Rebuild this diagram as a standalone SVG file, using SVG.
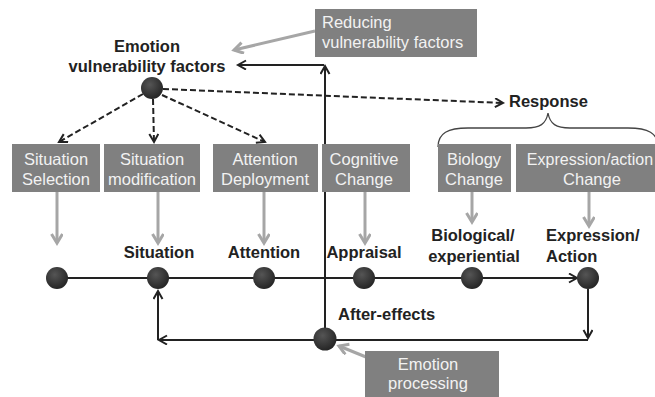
<svg xmlns="http://www.w3.org/2000/svg" width="655" height="397" viewBox="0 0 655 397">
<style>
text{font-family:"Liberation Sans",Arial,sans-serif;font-size:16.5px}
.b{font-weight:bold;fill:#222}
.bx{fill:#808080}
.bt{fill:#f2f2f2;text-anchor:middle}
.c{text-anchor:middle}
.k{stroke:#222;stroke-width:2;fill:none}
.d{stroke:#222;stroke-width:2;fill:none;stroke-dasharray:6 3}
.g{stroke:#a6a6a6;stroke-width:3;fill:none}
.dot{fill:url(#dg)}
</style>
<defs>
<radialGradient id="dg" cx="0.4" cy="0.35" r="0.7">
<stop offset="0" stop-color="#555"/>
<stop offset="1" stop-color="#222"/>
</radialGradient>
<marker id="ak" markerUnits="userSpaceOnUse" markerWidth="12" markerHeight="12" refX="9" refY="5" orient="auto">
<path d="M1,0.5 L9,5 L1,9.5" fill="none" stroke="#222" stroke-width="2"/>
</marker>
<marker id="ag" markerUnits="userSpaceOnUse" markerWidth="14" markerHeight="14" refX="10" refY="6" orient="auto">
<path d="M1,0.5 L10,6 L1,11.5" fill="none" stroke="#a6a6a6" stroke-width="3"/>
</marker>
</defs>
<rect width="655" height="397" fill="#fff"/>

<g id="connectors">
<line class="g" x1="315" y1="31" x2="234" y2="50" marker-end="url(#ag)"/>
<line class="g" x1="366" y1="357" x2="339" y2="346" marker-end="url(#ag)"/>
<line class="g" x1="57" y1="192" x2="57" y2="243" marker-end="url(#ag)"/>
<line class="g" x1="158" y1="192" x2="158" y2="243" marker-end="url(#ag)"/>
<line class="g" x1="264" y1="192" x2="264" y2="243" marker-end="url(#ag)"/>
<line class="g" x1="365" y1="192" x2="365" y2="243" marker-end="url(#ag)"/>
<line class="g" x1="472" y1="192" x2="472" y2="222" marker-end="url(#ag)"/>
<line class="g" x1="589" y1="192" x2="589" y2="226" marker-end="url(#ag)"/>
<line class="d" x1="143" y1="94" x2="59" y2="142" marker-end="url(#ak)"/>
<line class="d" x1="153" y1="99" x2="154" y2="142" marker-end="url(#ak)"/>
<line class="d" x1="162" y1="95" x2="265" y2="142" marker-end="url(#ak)"/>
<line class="d" x1="163" y1="89" x2="503" y2="103" marker-end="url(#ak)"/>
<line class="k" x1="325" y1="339" x2="325" y2="66" marker-end="url(#ak)"/>
<line class="k" x1="324" y1="65" x2="238" y2="65" marker-end="url(#ak)"/>
<line class="k" x1="57" y1="278" x2="577" y2="278" marker-end="url(#ak)"/>
<line class="k" x1="588" y1="289" x2="588" y2="338" marker-end="url(#ak)"/>
<line class="k" x1="588" y1="340" x2="159" y2="340" marker-end="url(#ak)"/>
<line class="k" x1="158" y1="340" x2="158" y2="291" marker-end="url(#ak)"/>
<path d="M438,147 C438,133 448,128 468,128 L526,128 C540,128 546,124 548,113 C550,124 556,128 570,128 L628,128 C648,128 658,133 658,147" fill="none" stroke="#444" stroke-width="1.3"/>
</g>

<g id="vulnerability">
<text class="b c" x="147" y="52">Emotion</text>
<text class="b c" x="147" y="72">vulnerability factors</text>
<circle class="dot" cx="152" cy="88" r="11"/>
</g>
<g id="reducing">
<rect class="bx" x="315" y="9" width="162" height="48"/>
<text x="322" y="28" fill="#f2f2f2">Reducing</text>
<text x="322" y="48" fill="#f2f2f2">vulnerability factors</text>
</g>
<g id="response"><text class="b" x="509" y="107">Response</text></g>

<g id="box-selection"><rect class="bx" x="12" y="144" width="88" height="48"/><text class="bt" x="56" y="165">Situation</text><text class="bt" x="56" y="185">Selection</text></g>
<g id="box-modification"><rect class="bx" x="104" y="144" width="96" height="48"/><text class="bt" x="152" y="165">Situation</text><text class="bt" x="152" y="185">modification</text></g>
<g id="box-attention"><rect class="bx" x="213" y="144" width="105" height="48"/><text class="bt" x="265" y="165">Attention</text><text class="bt" x="265" y="185">Deployment</text></g>
<g id="box-cognitive"><rect class="bx" x="322" y="144" width="88" height="48"/><text class="bt" x="364" y="165">Cognitive</text><text class="bt" x="364" y="185">Change</text></g>
<g id="box-biology"><rect class="bx" x="438" y="144" width="73" height="48"/><text class="bt" x="474" y="165">Biology</text><text class="bt" x="474" y="185">Change</text></g>
<g id="box-expression"><rect class="bx" x="516" y="144" width="152" height="48"/><text class="bt" x="590" y="165" style="font-size:16px">Expression/action</text><text class="bt" x="592" y="185">Change</text></g>

<g id="n-start"><circle class="dot" cx="57" cy="278" r="11"/></g>
<g id="n-situation"><text class="b c" x="159" y="258">Situation</text><circle class="dot" cx="158" cy="278" r="11"/></g>
<g id="n-attention"><text class="b c" x="264" y="258">Attention</text><circle class="dot" cx="264" cy="278" r="11"/></g>
<g id="n-appraisal"><text class="b c" x="364" y="258">Appraisal</text><circle class="dot" cx="364" cy="278" r="11"/></g>
<g id="n-biological"><text class="b c" x="473" y="241">Biological/</text><text class="b c" x="474" y="262">experiential</text><circle class="dot" cx="472" cy="278" r="11"/></g>
<g id="n-expression"><text class="b" x="546" y="241">Expression/</text><text class="b" x="546" y="262">Action</text><circle class="dot" cx="588" cy="278" r="11"/></g>
<g id="n-aftereffects"><text class="b" x="338" y="320">After-effects</text><circle class="dot" cx="325" cy="339" r="11.5"/></g>
<g id="processing">
<rect class="bx" x="365" y="351" width="134" height="50"/>
<text class="bt" x="428" y="370">Emotion</text>
<text class="bt" x="428" y="389">processing</text>
</g>
</svg>
